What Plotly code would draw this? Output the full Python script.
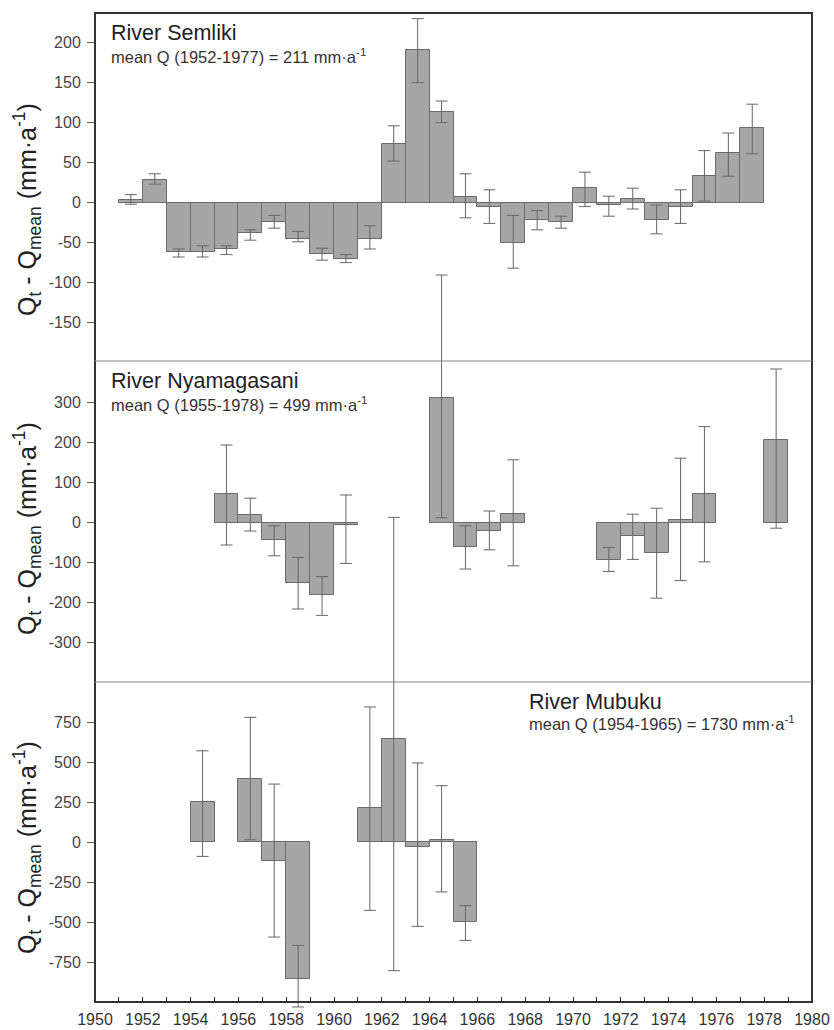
import plotly.graph_objects as go

FONT = "Liberation Sans, Arial, Helvetica, sans-serif"

# ---- data: deviation of annual runoff from the long-term mean (mm/a) ----
# each value comes with the lower / upper end of its error bar
semliki_years = list(range(1951, 1978))
semliki_dev = [3, 28, -62, -62, -58, -38, -24, -45, -64, -70, -45, 73, 191, 113,
               7, -5, -50, -22, -24, 18, -3, 5, -22, -5, 33, 62, 93]
semliki_low = [-2, 23, -68, -68, -65, -47, -32, -49, -72, -75, -58, 52, 150, 100,
               -19, -26, -82, -34, -32, -5, -17, -8, -39, -26, 2, 33, 61]
semliki_high = [10, 36, -58, -54, -54, -34, -16, -36, -57, -65, -29, 96, 230, 127,
                36, 16, -16, -10, -17, 38, 8, 18, -3, 16, 65, 87, 123]

nyama_years = [1955, 1956, 1957, 1958, 1959, 1960, 1964, 1965, 1966, 1967,
               1971, 1972, 1973, 1974, 1975, 1978]
nyama_dev = [71, 20, -43, -152, -181, -7, 312, -62, -22, 22, -93, -33, -75, 7, 72, 206]
nyama_low = [-56, -21, -83, -216, -232, -102, 12, -116, -68, -108, -122, -92, -189,
             -145, -98, -14]
nyama_high = [194, 61, -8, -87, -135, 69, 619, -8, 29, 157, -62, 21, 36, 161, 240, 384]

mubuku_years = [1954, 1956, 1957, 1958, 1961, 1962, 1963, 1964, 1965]
mubuku_dev = [250, 395, -121, -854, 212, 644, -33, 10, -502]
mubuku_low = [-90, 14, -594, -1031, -427, -804, -527, -312, -615]
mubuku_high = [570, 779, 362, -646, 844, 2029, 494, 352, -398]

rivers = ["River Semliki", "River Nyamagasani", "River Mubuku"]
mean_notes = ["mean Q (1952-1977) = 211 mm\u00b7a<sup>-1</sup>",
              "mean Q (1955-1978) = 499 mm\u00b7a<sup>-1</sup>",
              "mean Q (1954-1965) = 1730 mm\u00b7a<sup>-1</sup>"]

semliki_ticks = [200, 150, 100, 50, 0, -50, -100, -150]
nyama_ticks = [300, 200, 100, 0, -100, -200, -300]
mubuku_ticks = [750, 500, 250, 0, -250, -500, -750]
year_ticks = list(range(1950, 1981))

# ---- layout geometry (pixels) ----
W, H = 834, 1030
L, R, T, B = 95, 812, 13, 1010          # plotting area
FRAME_BOTTOM = 1002                     # x axis line
panel_px = [(13, 361), (361, 682), (682, FRAME_BOTTOM)]
panel_rng = [(-198, 237), (-398.5, 404), (-1000, 1000)]


def paper_y(px):
    return (B - px) / (B - T)


def full_range(rng, px):
    lo, hi = rng
    top, bot = px
    ppu = (bot - top) / (hi - lo)
    return [lo - (B - bot) / ppu, hi + (top - T) / ppu], top + hi * ppu


BAR_FILL = "#a6a6a6"
BAR_LINE = "#6a6a6a"
ERR = "#666666"

series = [
    (semliki_years, semliki_dev, semliki_low, semliki_high, semliki_ticks),
    (nyama_years, nyama_dev, nyama_low, nyama_high, nyama_ticks),
    (mubuku_years, mubuku_dev, mubuku_low, mubuku_high, mubuku_ticks),
]

fig = go.Figure()
layout = dict(
    width=W, height=H, autosize=False,
    margin=dict(l=L, r=W - R, t=T, b=H - B, pad=0, autoexpand=False),
    paper_bgcolor="white", plot_bgcolor="white",
    showlegend=False, bargap=0,
    font=dict(family=FONT, color="#333"),
)

frame_pos = paper_y(FRAME_BOTTOM)
layout["xaxis"] = dict(
    range=[1950, 1980], anchor="free", position=frame_pos, automargin=False,
    tickmode="array", tickvals=year_ticks,
    ticktext=[str(y) if y % 2 == 0 else "" for y in year_ticks],
    ticks="inside", ticklen=5, tickwidth=1, tickcolor="#333",
    ticklabelstandoff=6,
    tickfont=dict(size=16, color="#333", family=FONT),
    showgrid=False, zeroline=False, showline=False,
)

shapes = []
annotations = []
title_centres = [210, 529, 848]

for i, (yrs, dev, lo, hi, ticks) in enumerate(series):
    ya = "y" if i == 0 else f"y{i + 1}"
    yk = "yaxis" if i == 0 else f"yaxis{i + 1}"
    full, zero_px = full_range(panel_rng[i], panel_px[i])
    ydef = dict(
        range=full, domain=[0, 1], anchor="x", automargin=False,
        tickmode="array", tickvals=ticks, ticktext=[str(t) for t in ticks],
        ticks="outside", ticklen=7, tickwidth=1, tickcolor="#666",
        ticklabelstandoff=3,
        tickfont=dict(size=16, color="#444", family=FONT),
        showgrid=False, zeroline=False, showline=False,
    )
    if i > 0:
        ydef["overlaying"] = "y"
    layout[yk] = ydef

    # zero line with a tick mark at every year
    xk = f"xaxis{i + 2}"
    layout[xk] = dict(
        range=[1950, 1980], overlaying="x", anchor="free", automargin=False,
        position=paper_y(zero_px),
        tickmode="array", tickvals=year_ticks[1:-1], showticklabels=False,
        ticks="outside", ticklen=5, tickwidth=1, tickcolor="#888",
        showline=True, linecolor="#999", linewidth=1,
        showgrid=False, zeroline=False, layer="below traces",
    )

    fig.add_trace(go.Bar(
        x=[y + 0.5 for y in yrs], y=dev, width=1, yaxis=ya, xaxis="x",
        marker=dict(color=BAR_FILL, line=dict(color=BAR_LINE, width=1)),
        error_y=dict(type="data", symmetric=False,
                     array=[h - v for h, v in zip(hi, dev)],
                     arrayminus=[v - l for v, l in zip(dev, lo)],
                     color=ERR, thickness=1, width=6),
        name=rivers[i],
    ))

    # panel captions
    if i < 2:
        cx, tx_px, sub_px = (109 - L) / (R - L), panel_px[i][0] + 20, panel_px[i][0] + 43
    else:
        cx, tx_px, sub_px = (527 - L) / (R - L), 702, 723
    annotations.append(dict(
        text=rivers[i], x=cx, y=paper_y(tx_px), xref="paper", yref="paper",
        xanchor="left", yanchor="middle", showarrow=False,
        font=dict(size=21.5, color="#222", family=FONT)))
    annotations.append(dict(
        text=mean_notes[i], x=cx, y=paper_y(sub_px), xref="paper", yref="paper",
        xanchor="left", yanchor="middle", showarrow=False,
        font=dict(size=16.5, color="#333", family=FONT)))

    # y-axis title for the panel
    annotations.append(dict(
        text="Q<sub>t</sub> - Q<sub>mean</sub> (mm\u00b7a<sup>-1</sup>)",
        x=(27 - L) / (R - L), y=paper_y(title_centres[i]),
        xref="paper", yref="paper", xanchor="center", yanchor="middle",
        textangle=-90, showarrow=False,
        font=dict(size=25, color="#222", family=FONT)))

# frame and panel separators
shapes.append(dict(type="rect", xref="paper", yref="paper",
                   x0=0, x1=1, y0=frame_pos, y1=1,
                   line=dict(color="#333", width=2), fillcolor="rgba(0,0,0,0)"))
for top, _ in panel_px[1:]:
    shapes.append(dict(type="line", xref="paper", yref="paper",
                       x0=0, x1=1, y0=paper_y(top), y1=paper_y(top),
                       line=dict(color="#888", width=1)))

layout["shapes"] = shapes
layout["annotations"] = annotations
fig.update_layout(**layout)

fig.write_html("out.html")
